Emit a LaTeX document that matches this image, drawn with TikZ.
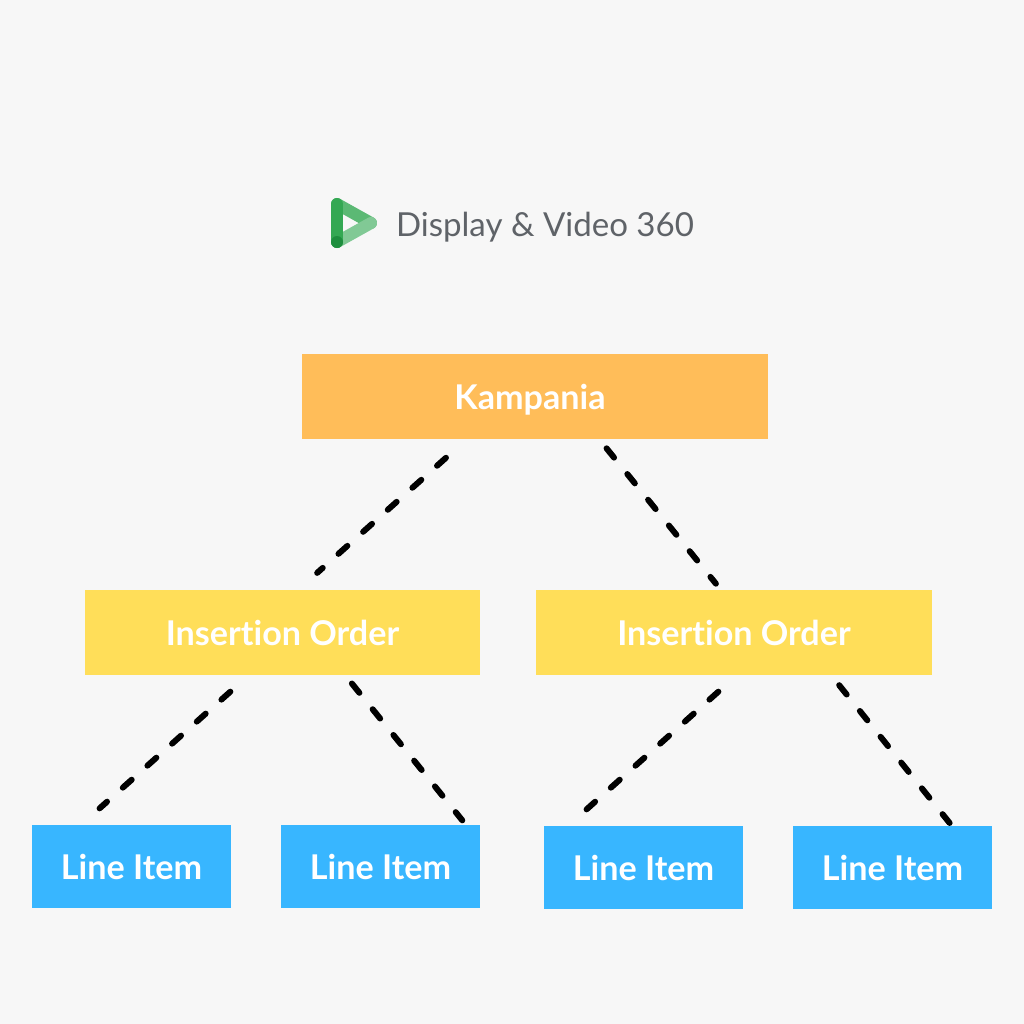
\documentclass[tikz,border=0pt]{standalone}
\usepackage{fontspec}
\setmainfont[Ligatures=NoCommon]{Lato}
\newfontfamily\logofont{Lato}
\usetikzlibrary{positioning}

\definecolor{pagebg}{HTML}{F7F7F7}
\definecolor{campaigncol}{HTML}{FFBD59}
\definecolor{ordercol}{HTML}{FFDE59}
\definecolor{itemcol}{HTML}{38B6FF}
\definecolor{logotextcol}{HTML}{5F6368}
\definecolor{logodark}{HTML}{34A853}
\definecolor{logomid}{HTML}{5BB974}
\definecolor{logolight}{HTML}{81C995}
\definecolor{logodot}{HTML}{1E8E3E}

\tikzset{
  box/.style={inner sep=0pt,outer sep=0pt,text=white,text depth=0pt,font=\fontsize{9.7}{11}\selectfont\bfseries},
  campaign/.style={box,fill=campaigncol,minimum width=4.66cm,minimum height=0.85cm},
  order/.style={box,fill=ordercol,minimum width=3.95cm,minimum height=0.85cm},
  item/.style={box,fill=itemcol,minimum width=1.99cm,minimum height=0.83cm},
  link/.style={draw=black,line width=1.7pt,line cap=round,dash pattern=on 3.4pt off 6pt},
  logoline/.style={line width=0.12cm,line cap=round}
}

\begin{document}
\begin{tikzpicture}[x=0.01cm,y=-0.01cm]

  % Background
  \fill[pagebg] (0,0) rectangle (1024,1024);
  \useasboundingbox (0,0) rectangle (1024,1024);

  % Logo
  \draw[logoline,logomid] (337,204) -- (371,223);
  \draw[logoline,logolight] (371,223) -- (337,242);
  \draw[logoline,logodark] (337,204) -- (337,242);
  \fill[logodot] (337,242) circle (6);
  \node[text=logotextcol,text depth=0pt,font=\logofont\fontsize{9.4}{12}\selectfont,inner sep=0pt] (logotext) at (545,224.5) {Display \& Video 360};

  % Boxes
  \node[campaign] (kampania) at (535,396.5) {Kampania\hspace*{0.1cm}};
  \node[order] (orderA) at (282.5,632.5) {Insertion Order};
  \node[order] (orderB) at (734,632.5) {Insertion Order};

  % Line items
  \foreach \name/\x/\y in {itemA/131.5/866.5,itemB/380.5/866.5,itemC/643.5/867.5,itemD/892.5/867.5}
    \node[item] (\name) at (\x,\y) {Line Item};

  % Dashed links
  \draw[link,shorten <=8pt,shorten >=7.3pt] ([xshift=-0.68cm]kampania.south) -- ([xshift=0.155cm]orderA.north);
  \draw[link,shorten <=3.4pt,shorten >=2.3pt] ([xshift=0.64cm]kampania.south) -- ([xshift=-0.13cm]orderB.north);

  \draw[link,shorten <=7.1pt,shorten >=7.1pt] ([xshift=-0.335cm]orderA.south) -- ([xshift=-0.505cm]itemA.north);
  \draw[link,shorten <=3.1pt,shorten >=1.7pt] ([xshift=0.625cm]orderA.south) -- ([xshift=0.855cm]itemB.north);

  \draw[link,shorten <=7.1pt,shorten >=7.1pt] ([xshift=0.03cm]orderB.south) -- ([xshift=-0.755cm]itemC.north);
  \draw[link,shorten <=3.7pt,shorten >=1.1pt] ([xshift=0.97cm]orderB.south) -- ([xshift=0.595cm]itemD.north);

\end{tikzpicture}
\end{document}
